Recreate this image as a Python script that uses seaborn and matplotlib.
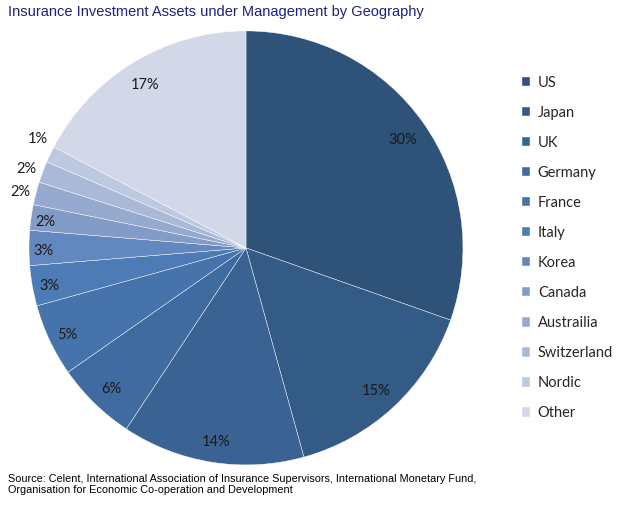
import matplotlib
matplotlib.use("Agg")
import matplotlib.pyplot as plt
import seaborn as sns
import numpy as np

sns.set_theme(style="white")

# data (shares in %)
countries = ["US", "Japan", "UK", "Germany", "France", "Italy", "Korea",
             "Canada", "Austrailia", "Switzerland", "Nordic", "Other"]
shares = [30.4, 15.3, 13.6, 6.0, 5.4, 3.0, 2.6, 1.9, 1.7, 1.6, 1.2, 17.3]
colors = ["#2F5279", "#345A86", "#3A6394", "#406BA0", "#4673AB", "#4C7BB5",
          "#6388BF", "#839CC7", "#95AACE", "#A9B9D7", "#BDC8E1", "#D2D8E8"]

label_font = ["Lato", "DejaVu Sans"]

fig = plt.figure(figsize=(6.21, 5.07), dpi=100)
ax = fig.add_axes([0.0466, 0.083, 0.699, 0.856])

wedges, texts, autotexts = ax.pie(
    shares, colors=colors, startangle=90, counterclock=False,
    autopct=lambda p: f"{round(p)}%", pctdistance=0.9,
    wedgeprops=dict(edgecolor="white", linewidth=0.3),
    textprops=dict(fontsize=10.5, color="#1a1a1a", family=label_font))
ax.set_xlim(-1, 1)
ax.set_ylim(-1, 1)
ax.set_aspect("equal")

# label distance per slice: thin slices are pushed out like excel does
label_dist = [0.885, 0.88, 0.89, 0.89, 0.91, 0.92, 0.935, 0.935,
              1.075, 1.08, 1.09, 0.895]
for i, (w, t, d) in enumerate(zip(wedges, autotexts, label_dist)):
    mid = np.deg2rad((w.theta1 + w.theta2) / 2)
    if i == 10:
        mid -= np.deg2rad(2.6)
    t.set_position((d * np.cos(mid), d * np.sin(mid) - 0.014))

ax.legend(wedges, countries, loc="center left",
          bbox_to_anchor=(0.819, 0.511), bbox_transform=fig.transFigure,
          frameon=False, handlelength=0.6, handleheight=0.6,
          handletextpad=0.5, labelspacing=1.1,
          prop=dict(family=label_font, size=10.5))

fig.text(0.013, 0.976, "Insurance Investment Assets under Management by Geography",
         fontsize=10.5, color="#1F1F80", family=["Liberation Sans", "DejaVu Sans"],
         va="center")
fig.text(0.013, 0.045, "Source: Celent, International Association of Insurance Supervisors, International Monetary Fund,\nOrganisation for Economic Co-operation and Development",
         fontsize=7.8, color="black", family=["Liberation Sans", "DejaVu Sans"],
         va="center", linespacing=1.15)

fig.savefig("out.png", dpi=100)
